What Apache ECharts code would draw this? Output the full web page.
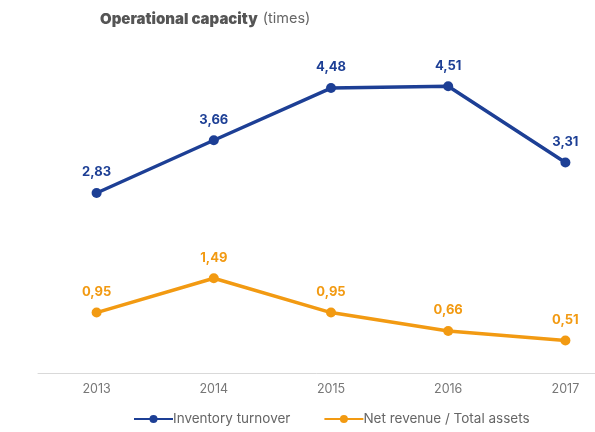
<!DOCTYPE html>
<html>
<head>
<meta charset="utf-8">
<script src="https://cdn.jsdelivr.net/npm/echarts@6/dist/echarts.min.js"></script>
<style>
  html, body { margin: 0; padding: 0; background: #ffffff; }
  #chart { width: 595px; height: 432px; }
</style>
</head>
<body>
<div id="chart"></div>
<script>
// Operational capacity indicators, 2013–2017 (times)
const years = ['2013', '2014', '2015', '2016', '2017'];
const inventoryTurnover = [2.83, 3.66, 4.48, 4.51, 3.31];
const revenueToAssets = [0.95, 1.49, 0.95, 0.66, 0.51];

const BLUE = '#1d3f95';
const ORANGE = '#f29a12';

const fmt = p => p.value.toFixed(2).replace('.', ',');

const labelStyle = color => ({
  show: true,
  position: 'top',
  distance: 9,
  formatter: fmt,
  fontFamily: 'Inter',
  fontWeight: 'bold',
  fontSize: 13,
  color: color
});

const chart = echarts.init(document.getElementById('chart'));
chart.setOption({
  backgroundColor: '#ffffff',
  animation: false,
  title: {
    text: '{b|Operational capacity} {n|(times)}',
    left: 95,
    top: 5,
    textStyle: {
      rich: {
        b: { fontFamily: 'Inter', fontWeight: 900, fontSize: 15, color: '#555555' },
        n: { fontFamily: 'Inter', fontWeight: 'normal', fontSize: 14.5, color: '#666666' }
      }
    }
  },
  legend: {
    bottom: 1,
    left: 128,
    itemGap: 33,
    itemWidth: 39,
    itemHeight: 10,
    textStyle: { fontFamily: 'Inter', fontSize: 13.5, color: '#666666', padding: [0, 0, 0, -5] },
    data: ['Inventory turnover', 'Net revenue / Total assets']
  },
  // plot area is wider than the page so the baseline runs off the right edge
  grid: { left: 38, right: -29, top: 55, bottom: 59, outerBoundsMode: 'none', containLabel: false },
  xAxis: {
    type: 'category',
    data: years,
    boundaryGap: true,
    axisLine: { lineStyle: { color: '#d9d9d9', width: 1 } },
    axisTick: { show: false },
    axisLabel: { fontFamily: 'Inter', fontSize: 12.5, color: '#777777', margin: 10 }
  },
  yAxis: {
    type: 'value',
    min: 0,
    max: 5,
    show: false,
    splitLine: { show: false }
  },
  series: [
    {
      name: 'Inventory turnover',
      type: 'line',
      data: inventoryTurnover,
      color: BLUE,
      symbol: 'circle',
      symbolSize: 10,
      lineStyle: { width: 3.5, color: BLUE },
      itemStyle: { color: BLUE },
      label: labelStyle(BLUE)
    },
    {
      name: 'Net revenue / Total assets',
      type: 'line',
      data: revenueToAssets,
      color: ORANGE,
      symbol: 'circle',
      symbolSize: 10,
      lineStyle: { width: 3.5, color: ORANGE },
      itemStyle: { color: ORANGE },
      label: labelStyle(ORANGE)
    }
  ]
});
</script>
</body>
</html>
